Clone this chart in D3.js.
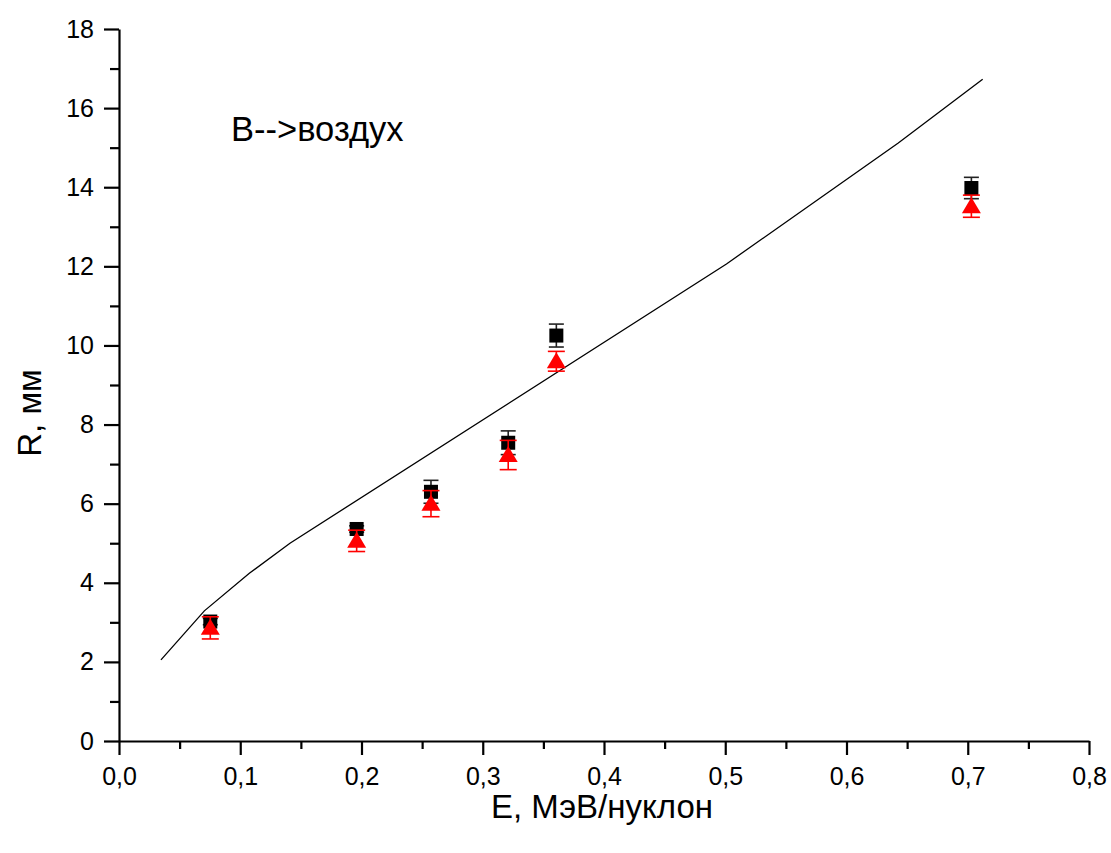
<!DOCTYPE html>
<html><head><meta charset="utf-8">
<script src="https://cdn.jsdelivr.net/npm/d3@7/dist/d3.min.js"></script>
<style>body{margin:0;background:#fff}svg{display:block}text{font-family:"Liberation Sans",Arial,sans-serif}</style>
</head><body><svg id="c" width="1111" height="853"></svg>
<script>
// theory curve
const curveE = [0.0346, 0.0704, 0.1075, 0.141, 0.501, 0.6427, 0.7123];
const curveR = [2.05, 3.29, 4.24, 5.0, 12.06, 15.12, 16.73];
// experimental series 1 (black squares)
const sqE = [0.0753, 0.196, 0.2573, 0.321, 0.3607, 0.703];
const sqR = [3.02, 5.36, 6.30, 7.54, 10.25, 13.98];
const sqErr = [0.08, 0.08, 0.29, 0.30, 0.29, 0.27];
// experimental series 2 (red triangles)
const trE = [0.0753, 0.196, 0.2573, 0.321, 0.3607, 0.703];
const trR = [2.86, 5.06, 6.0, 7.23, 9.6, 13.52];
const trErr = [0.28, 0.27, 0.33, 0.37, 0.25, 0.28];
const xTicks = [0, 0.1, 0.2, 0.3, 0.4, 0.5, 0.6, 0.7, 0.8];
const yTicks = [0, 2, 4, 6, 8, 10, 12, 14, 16, 18];
const xLabel = "E, МэВ/нуклон";
const yLabel = "R, мм";
const note = "B-->воздух";

const svg = d3.select("#c");
const L = 119, R = 1089, T = 29, B = 741;
const x = d3.scaleLinear().domain([0, 0.8]).range([L, R]);
const y = d3.scaleLinear().domain([0, 18]).range([B, T]);
const fmt = d => d3.format(".1f")(d).replace(".", ",");

// minor ticks
const xMinor = d3.range(0.05, 0.8, 0.1);
const yMinor = d3.range(1, 18, 2);

const gx = svg.append("g").attr("transform", `translate(0,${B})`)
  .call(d3.axisBottom(x).tickValues(xTicks).tickFormat(fmt).tickSize(14).tickSizeOuter(0).tickPadding(8));
gx.append("g").call(d3.axisBottom(x).tickValues(xMinor).tickFormat("").tickSize(8).tickSizeOuter(0)).select(".domain").remove();
const gy = svg.append("g").attr("transform", `translate(${L},0)`)
  .call(d3.axisLeft(y).tickValues(yTicks).tickFormat(d3.format("d")).tickSize(15).tickSizeOuter(0).tickPadding(10));
gy.append("g").call(d3.axisLeft(y).tickValues(yMinor).tickFormat("").tickSize(9).tickSizeOuter(0)).select(".domain").remove();
svg.selectAll(".domain").attr("stroke", "#000").attr("stroke-width", 2.2);
svg.selectAll(".tick line").attr("stroke", "#000").attr("stroke-width", 2.2);
svg.selectAll(".tick text").attr("font-size", 25).attr("fill", "#000");
gx.selectAll(".tick text").attr("dy", "0.86em");

// curve
const curve = curveE.map((e, i) => [e, curveR[i]]);
svg.append("path").datum(curve)
  .attr("d", d3.line().x(d => x(d[0])).y(d => y(d[1])))
  .attr("fill", "none").attr("stroke", "#000").attr("stroke-width", 1.3);

function errBars(E, Rv, Er, color, cap) {
  const g = svg.append("g").attr("stroke", color).attr("stroke-width", 1.6);
  E.forEach((e, i) => {
    const cx = x(e), y1 = y(Rv[i] + Er[i]), y2 = y(Rv[i] - Er[i]);
    g.append("line").attr("x1", cx).attr("x2", cx).attr("y1", y1).attr("y2", y2);
    g.append("line").attr("x1", cx - cap).attr("x2", cx + cap).attr("y1", y1).attr("y2", y1);
    g.append("line").attr("x1", cx - cap).attr("x2", cx + cap).attr("y1", y2).attr("y2", y2);
  });
}
errBars(sqE, sqR, sqErr, "#222", 7.5);
svg.append("g").selectAll("rect").data(sqE).join("rect")
  .attr("x", d => x(d) - 7).attr("y", (d, i) => y(sqR[i]) - 7)
  .attr("width", 14).attr("height", 14).attr("fill", "#000");

errBars(trE, trR, trErr, "#ff0000", 8.5);
svg.append("g").selectAll("path").data(trE).join("path")
  .attr("d", (d, i) => {
    const cx = x(d), cy = y(trR[i]);
    return `M${cx},${cy - 9}L${cx + 9.5},${cy + 7}L${cx - 9.5},${cy + 7}Z`;
  })
  .attr("fill", "#ff0000");

// labels
svg.append("text").attr("x", 602).attr("y", 818).attr("text-anchor", "middle")
  .attr("font-size", 33).text(xLabel);
svg.append("text").attr("transform", `translate(41,413) rotate(-90)`)
  .attr("text-anchor", "middle").attr("font-size", 33).text(yLabel);
svg.append("text").attr("x", 231).attr("y", 141).attr("font-size", 34.5).text(note);
</script></body></html>
